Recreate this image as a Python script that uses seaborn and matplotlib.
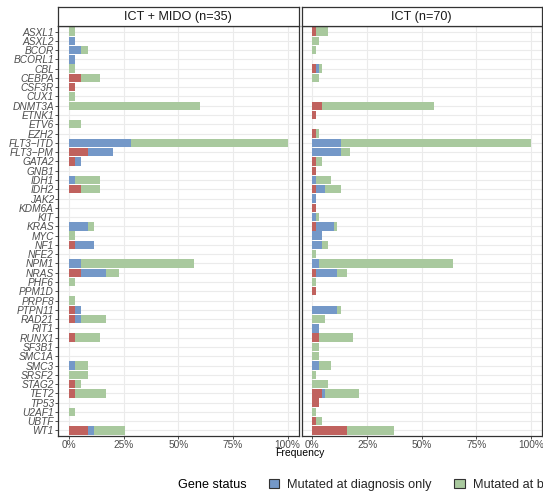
import matplotlib
matplotlib.use("Agg")
import matplotlib.pyplot as plt
from matplotlib.patches import Patch
import numpy as np
import pandas as pd
import seaborn as sns

sns.set_theme(style="white")
plt.rcParams["font.family"] = ["Liberation Sans", "DejaVu Sans"]

genes = ["ASXL1", "ASXL2", "BCOR", "BCORL1", "CBL", "CEBPA", "CSF3R", "CUX1",
         "DNMT3A", "ETNK1", "ETV6", "EZH2", "FLT3\u2212ITD", "FLT3\u2212PM", "GATA2",
         "GNB1", "IDH1", "IDH2", "JAK2", "KDM6A", "KIT", "KRAS", "MYC", "NF1",
         "NFE2", "NPM1", "NRAS", "PHF6", "PPM1D", "PRPF8", "PTPN11", "RAD21",
         "RIT1", "RUNX1", "SF3B1", "SMC1A", "SMC3", "SRSF2", "STAG2", "TET2",
         "TP53", "U2AF1", "UBTF", "WT1"]

cohorts = ["ICT + MIDO (n=35)", "ICT (n=70)"]
cohort_n = [35, 70]

status_labels = ["Mutated at diagnosis only", "Mutated at both time points",
                 "Mutated at relapse only"]

# patient counts per gene, ICT + MIDO cohort
mido_relapse_only = [0, 0, 0, 0, 0, 2, 1, 0, 0, 0, 0, 0, 0, 3, 1, 0, 0, 2, 0, 0, 0, 0,
                     0, 1, 0, 0, 2, 0, 0, 0, 1, 1, 0, 1, 0, 0, 0, 0, 1, 1, 0, 0, 0, 3]
mido_dx_only = [0, 1, 2, 1, 0, 0, 0, 0, 0, 0, 0, 0, 10, 4, 1, 0, 1, 0, 0, 0, 0, 3,
                0, 3, 0, 2, 4, 0, 0, 0, 1, 1, 0, 0, 0, 0, 1, 0, 0, 0, 0, 0, 0, 1]
mido_both = [1, 0, 1, 0, 1, 3, 0, 1, 21, 0, 2, 0, 25, 0, 0, 0, 4, 3, 0, 0, 0, 1,
             1, 0, 0, 18, 2, 1, 0, 1, 0, 4, 0, 4, 0, 0, 2, 3, 1, 5, 0, 1, 0, 5]

# patient counts per gene, ICT cohort
ict_relapse_only = [1, 0, 0, 0, 1, 0, 0, 0, 3, 1, 0, 1, 0, 0, 1, 1, 0, 1, 0, 1, 0, 1,
                    0, 0, 0, 0, 1, 0, 1, 0, 0, 0, 0, 2, 0, 0, 0, 0, 0, 3, 2, 0, 1, 11]
ict_dx_only = [0, 0, 0, 0, 1, 0, 0, 0, 0, 0, 0, 0, 9, 9, 0, 0, 1, 3, 1, 0, 1, 6,
               3, 3, 0, 2, 7, 0, 0, 0, 8, 0, 2, 0, 0, 0, 2, 0, 0, 1, 0, 0, 0, 0]
ict_both = [4, 2, 1, 0, 1, 2, 0, 0, 36, 0, 0, 1, 61, 3, 2, 0, 5, 5, 0, 0, 1, 1,
            0, 2, 1, 43, 3, 1, 0, 0, 1, 4, 0, 11, 2, 2, 4, 1, 5, 11, 0, 1, 2, 15]

counts = {
    cohorts[0]: (mido_relapse_only, mido_dx_only, mido_both),
    cohorts[1]: (ict_relapse_only, ict_dx_only, ict_both),
}

col_relapse = "#C0625E"
col_dx = "#7498C8"
col_both = "#A9C99E"

W, H = 543, 494
fig = plt.figure(figsize=(W / 100, H / 100), dpi=100)
fig.patch.set_facecolor("white")

panel_x = [(58, 298.5), (301.5, 542)]
top_px, bot_px = 26, 436
strip_top = 7.3

grey_txt = "#4D4D4D"
border = "#333333"

for i, (cohort, n) in enumerate(zip(cohorts, cohort_n)):
    x0, x1 = panel_x[i]
    ax = fig.add_axes([x0 / W, 1 - bot_px / H, (x1 - x0) / W, (bot_px - top_px) / H])
    red, blue, green = (np.array(v, dtype=float) for v in counts[cohort])
    df = pd.DataFrame({
        "gene": genes,
        "relapse": red / n * 100,
        "dx": (red + blue) / n * 100,
        "total": (red + blue + green) / n * 100,
    })
    # stacked bars: draw cumulative totals back to front
    for col, colour in [("total", col_both), ("dx", col_dx), ("relapse", col_relapse)]:
        sns.barplot(data=df, x=col, y="gene", order=genes, orient="h",
                    color=colour, width=0.9, saturation=1, ax=ax,
                    linewidth=0, edgecolor="none")
    ax.set_xlim(-5, 105)
    ax.set_ylim(len(genes) - 0.4, -0.6)
    ax.set_xticks([0, 25, 50, 75, 100])
    ax.set_xticklabels(["0%", "25%", "50%", "75%", "100%"])
    ax.set_xlabel("")
    ax.set_ylabel("")
    ax.grid(True, axis="both", color="#EBEBEB", linewidth=0.8)
    ax.set_axisbelow(True)
    for s in ax.spines.values():
        s.set_color(border)
        s.set_linewidth(0.9)
    ax.tick_params(axis="x", length=2.0, width=0.6, color=border, labelsize=7.3,
                   labelcolor=grey_txt, pad=0.6, bottom=True)
    if i == 0:
        ax.tick_params(axis="y", length=2.0, width=0.6, color=border, labelsize=7.3,
                       labelcolor=grey_txt, pad=1.0, left=True)
        for lab in ax.get_yticklabels():
            lab.set_fontstyle("italic")
    else:
        ax.tick_params(axis="y", left=False, labelleft=False)

    sax = fig.add_axes([x0 / W, 1 - top_px / H, (x1 - x0) / W, (top_px - strip_top) / H])
    sax.set_xticks([])
    sax.set_yticks([])
    sax.set_facecolor("white")
    for s in sax.spines.values():
        s.set_color(border)
        s.set_linewidth(0.9)
    sax.text(0.5, 0.48, cohort, ha="center", va="center", fontsize=9.1,
             color="#1A1A1A", transform=sax.transAxes)

fig.text(300 / W, 1 - 453 / H, "Frequency", ha="center", va="center",
         fontsize=7.5, color="black")

fig.text(178 / W, 1 - 484.7 / H, "Gene status", ha="left", va="center",
         fontsize=9.1, color="black")
handles = [Patch(facecolor=c, edgecolor="#333333", linewidth=0.8)
           for c in (col_dx, col_both, col_relapse)]
fig.legend(handles, status_labels, loc="center left",
           bbox_to_anchor=(268.7 / W, 1 - 484.7 / H), ncol=3, frameon=False,
           fontsize=9.2, handlelength=0.8, handleheight=0.8, handletextpad=0.66,
           columnspacing=1.76, borderpad=0, borderaxespad=0)

fig.savefig("out.png", dpi=100)
